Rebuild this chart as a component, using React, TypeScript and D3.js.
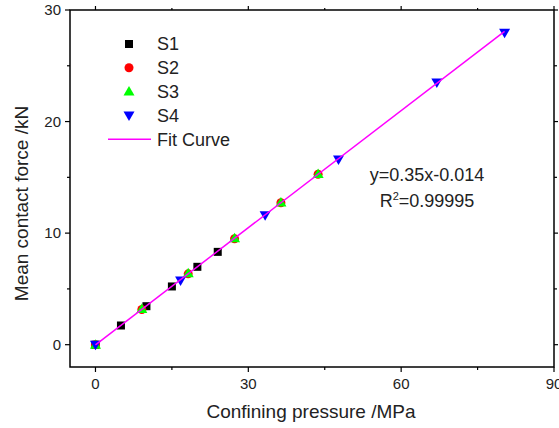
import React from 'react'
import * as d3 from 'd3'

const s1X = [0, 5, 10, 15, 20, 24]
const s1Y = [0, 1.72, 3.45, 5.22, 6.98, 8.32]
const s2X = [0, 9.1, 18.2, 27.3, 36.4, 43.7]
const s2Y = [0, 3.15, 6.35, 9.5, 12.72, 15.28]
const s3X = [0, 9.1, 18.2, 27.3, 36.4, 43.7]
const s3Y = [0, 3.2, 6.4, 9.55, 12.75, 15.3]
const s4X = [0, 16.7, 33.3, 47.7, 67, 80.3]
const s4Y = [0, 5.75, 11.6, 16.6, 23.5, 27.95]
const xTicks = [0, 30, 60, 90]
const yTicks = [0, 10, 20, 30]
const fitSlope = 0.35
const fitIntercept = -0.014
const legendNames = ['S1', 'S2', 'S3', 'S4', 'Fit Curve']

const FONT = '"Liberation Sans", Arial, sans-serif'

function Marker({ kind, x, y }: { kind: string; x: number; y: number }) {
    if (kind === 'S1') return <rect x={x - 4} y={y - 4} width={8} height={8} fill="#000" />
    if (kind === 'S2') return <circle cx={x} cy={y} r={4.5} fill="#ff0000" />
    if (kind === 'S3') return <path d={`M${x},${y - 5.5}L${x + 5.5},${y + 4}L${x - 5.5},${y + 4}Z`} fill="#00ff00" />
    return <path d={`M${x - 5.5},${y - 4}L${x + 5.5},${y - 4}L${x},${y + 5.5}Z`} fill="#0000ff" />
}

export default function App() {
    const width = 559
    const height = 428
    const left = 70, right = 554, top = 10, bottom = 367
    const x = d3.scaleLinear().domain([-5, 90]).range([left, right])
    const y = d3.scaleLinear().domain([-2, 30]).range([bottom, top])

    const series = [
        { name: 'S1', xs: s1X, ys: s1Y },
        { name: 'S2', xs: s2X, ys: s2Y },
        { name: 'S3', xs: s3X, ys: s3Y },
        { name: 'S4', xs: s4X, ys: s4Y },
    ]
    const fitLine = d3.line<number>()
        .x(d => x(d))
        .y(d => y(fitSlope * d + fitIntercept))([0, 80.3])

    const xMinor = [15, 45, 75]
    const yMinor = [5, 15, 25]

    return (
        <svg width={width} height={height} style={{ position: 'absolute', left: 0, top: 0, background: '#fff' }}
            fontFamily={FONT}>
            <rect width={width} height={height} fill="#fff" />
            {/* frame */}
            <rect x={left} y={top} width={right - left} height={bottom - top} fill="none" stroke="#000" strokeWidth={1.5} />
            {/* bottom + top ticks */}
            {xTicks.map(t => (
                <g key={'xt' + t}>
                    <line x1={x(t)} x2={x(t)} y1={bottom} y2={bottom + 5} stroke="#000" strokeWidth={1.2} />
                    <line x1={x(t)} x2={x(t)} y1={top} y2={top - 4} stroke="#000" strokeWidth={1.2} />
                    <text x={x(t)} y={bottom + 22} textAnchor="middle" fontSize={15} fill="#222">{t}</text>
                </g>
            ))}
            {xMinor.map(t => (
                <g key={'xm' + t}>
                    <line x1={x(t)} x2={x(t)} y1={bottom} y2={bottom + 3} stroke="#000" strokeWidth={1.2} />
                    <line x1={x(t)} x2={x(t)} y1={top} y2={top - 2} stroke="#000" strokeWidth={1.2} />
                </g>
            ))}
            {/* left + right ticks */}
            {yTicks.map(t => (
                <g key={'yt' + t}>
                    <line x1={left} x2={left - 5} y1={y(t)} y2={y(t)} stroke="#000" strokeWidth={1.2} />
                    <line x1={right} x2={right + 4} y1={y(t)} y2={y(t)} stroke="#000" strokeWidth={1.2} />
                    <text x={left - 9} y={y(t)} dy="0.35em" textAnchor="end" fontSize={15} fill="#222">{t}</text>
                </g>
            ))}
            {yMinor.map(t => (
                <g key={'ym' + t}>
                    <line x1={left} x2={left - 3} y1={y(t)} y2={y(t)} stroke="#000" strokeWidth={1.2} />
                    <line x1={right} x2={right + 3} y1={y(t)} y2={y(t)} stroke="#000" strokeWidth={1.2} />
                </g>
            ))}
            {/* axis titles */}
            <text x={(left + right) / 2 - 1} y={418} textAnchor="middle" fontSize={19} fill="#222">Confining pressure /MPa</text>
            <text transform={`translate(28,${(top + bottom) / 2 + 15}) rotate(-90)`} textAnchor="middle" fontSize={19} fill="#222">Mean contact force /kN</text>

            {/* data */}
            {series.map(s => (
                <g key={s.name}>
                    {s.xs.map((v, i) => <Marker key={i} kind={s.name} x={x(v)} y={y(s.ys[i])} />)}
                </g>
            ))}
            <path d={fitLine ?? ''} stroke="#ff00ff" strokeWidth={1.5} fill="none" />

            {/* legend */}
            {legendNames.map((n, i) => {
                const ly = 44 + i * 23.8
                return (
                    <g key={n}>
                        {n === 'Fit Curve'
                            ? <line x1={108} x2={151} y1={ly} y2={ly} stroke="#ff00ff" strokeWidth={1.5} />
                            : <Marker kind={n} x={129} y={ly} />}
                        <text x={157} y={ly} dy="0.36em" fontSize={18} fill="#222">{n}</text>
                    </g>
                )
            })}

            {/* fit annotation */}
            <text x={427} y={181} textAnchor="middle" fontSize={18} fill="#222">y=0.35x-0.014</text>
            <text x={427} y={207} textAnchor="middle" fontSize={18} fill="#222">
                R<tspan dy={-7} fontSize={11}>2</tspan><tspan dy={7}>=0.99995</tspan>
            </text>
        </svg>
    )
}
